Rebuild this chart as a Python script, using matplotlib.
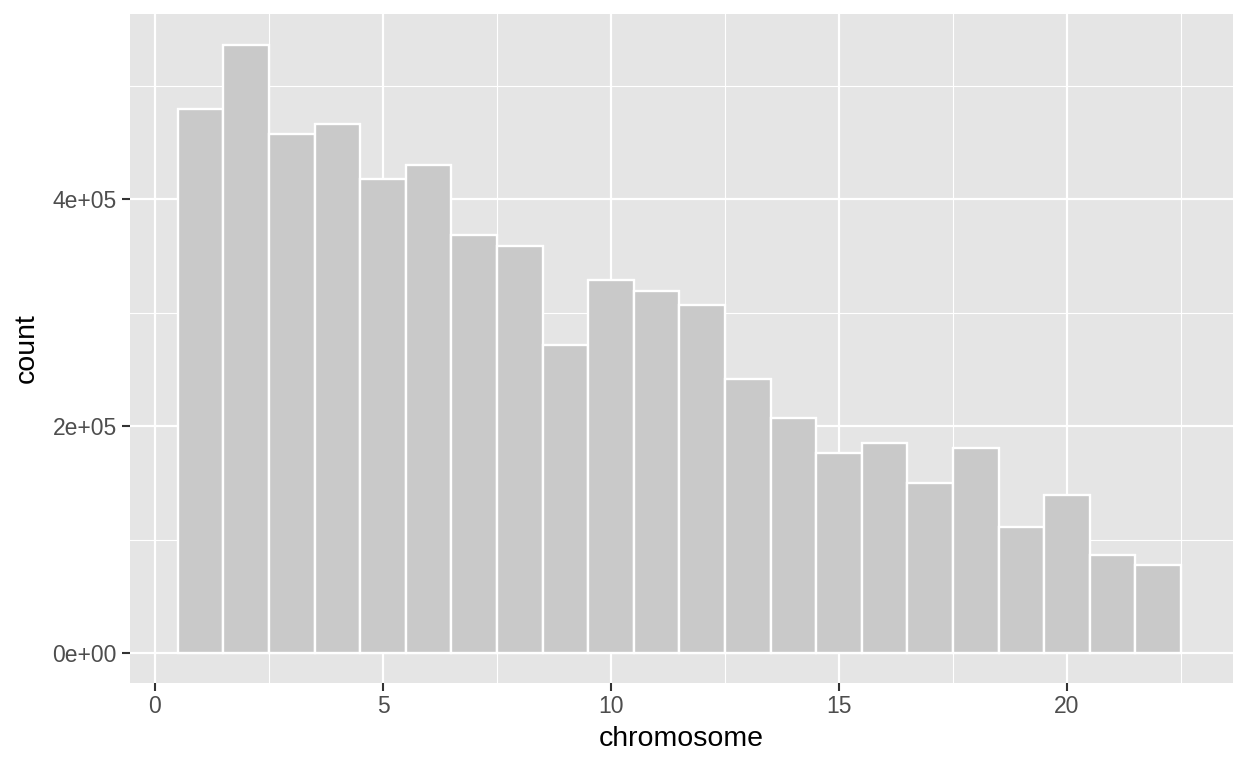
import matplotlib
matplotlib.use("Agg")
import matplotlib.pyplot as plt
from matplotlib.ticker import FixedLocator

chromosomes = list(range(1, 23))
counts = [479000, 536000, 457000, 466000, 418000, 430000, 368000, 359000,
          271000, 329000, 319000, 307000, 241000, 207000, 176000, 185000,
          150000, 181000, 111000, 139000, 86000, 78000]
x_ticks = [0, 5, 10, 15, 20]
x_labels = ["0", "5", "10", "15", "20"]
y_ticks = [0, 200000, 400000]
y_labels = ["0e+00", "2e+05", "4e+05"]

plt.rcParams['font.family'] = ['Liberation Sans', 'DejaVu Sans']
fig = plt.figure(figsize=(12.48, 7.68), dpi=100)
ax = fig.add_axes([130/1248, (768-683)/768, 1103/1248, 669/768])
ax.set_facecolor('#E5E5E5')
ax.bar(chromosomes, counts, width=1.0, color='#C9C9C9', edgecolor='white',
       linewidth=1.7, zorder=3)
ax.set_xlim(-0.548, 23.64)
ax.set_ylim(-26400, 563000)
ax.set_xticks(x_ticks)
ax.set_xticklabels(x_labels)
ax.set_yticks(y_ticks)
ax.set_yticklabels(y_labels)
ax.xaxis.set_minor_locator(FixedLocator([2.5, 7.5, 12.5, 17.5, 22.5]))
ax.yaxis.set_minor_locator(FixedLocator([100000, 300000, 500000]))
ax.grid(which='major', color='white', linewidth=1.6, zorder=1)
ax.grid(which='minor', color='white', linewidth=0.8, zorder=1)
ax.set_axisbelow(True)
for s in ax.spines.values():
    s.set_visible(False)
ax.tick_params(which='major', length=5.5, width=1.5, color='#333333',
               labelcolor='#4D4D4D', labelsize=16.5, pad=3)
ax.tick_params(axis='y', pad=4)
ax.tick_params(which='minor', length=0)
ax.set_xlabel('chromosome', fontsize=20.5, color='black', labelpad=6)
ax.set_ylabel('count', fontsize=20.5, color='black', labelpad=9)
fig.savefig('out.png', dpi=100)
